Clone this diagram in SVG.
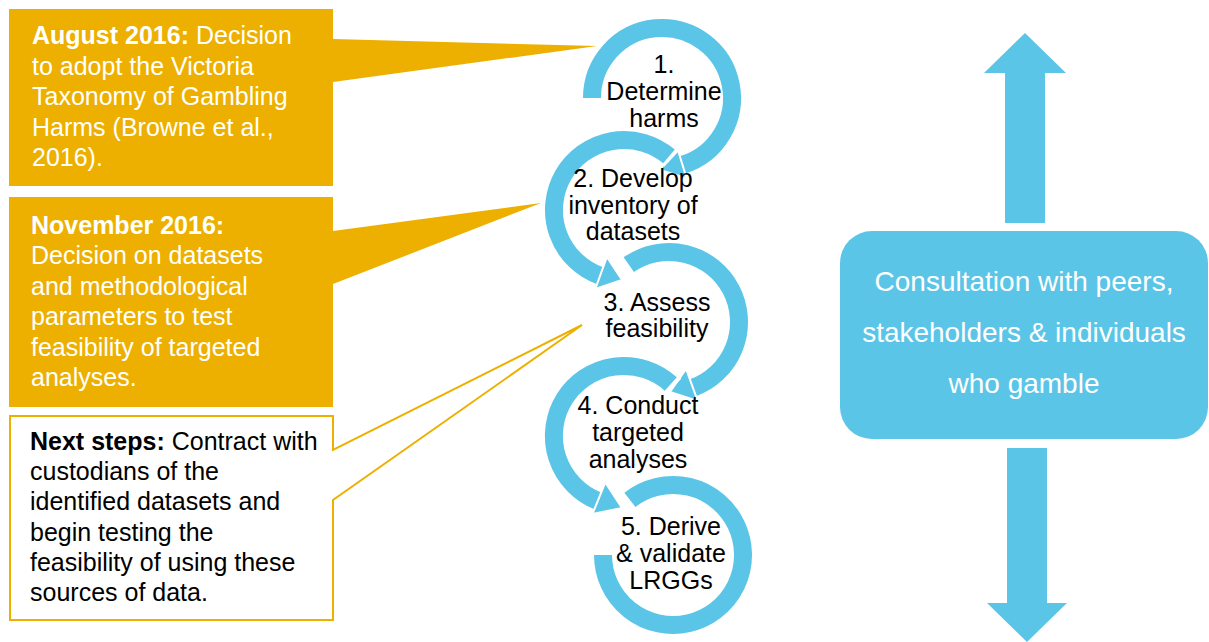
<svg xmlns="http://www.w3.org/2000/svg" width="1209" height="642" viewBox="0 0 1209 642">
<defs>
<style>
.box{fill:#EDB000}
.nbox{fill:#ffffff;stroke:#EDB000;stroke-width:2}
.t{font-family:"Liberation Sans",Arial,sans-serif;font-size:25px}
.w{fill:#ffffff}
.k{fill:#000000}
.b{font-weight:bold}
.rw{fill:none;stroke:#ffffff;stroke-width:22}
.r{fill:none;stroke:#5BC5E8;stroke-width:18}
.hd{fill:#5BC5E8;stroke:#ffffff;stroke-width:2}
.c{text-anchor:middle}
.blue{fill:#5BC5E8}
.cons{font-family:"Liberation Sans",Arial,sans-serif;font-size:28px;fill:#ffffff;text-anchor:middle}
</style>
</defs>
<rect width="1209" height="642" fill="#ffffff"/>

<g id="aug2016">
<path class="box" d="M9 9 H333 V39 L597 46 L333 82 V186 H9 Z"/>
<text class="t w" x="32" y="44"><tspan class="b">August 2016:</tspan> Decision</text>
<text class="t w" x="32" y="75">to adopt the Victoria</text>
<text class="t w" x="32" y="105">Taxonomy of Gambling</text>
<text class="t w" x="32" y="136">Harms (Browne et al.,</text>
<text class="t w" x="32" y="166">2016).</text>
</g>

<g id="nov2016">
<path class="box" d="M9 197 H333 V231 L541 203 L333 284 V407 H9 Z"/>
<text class="t w b" x="31" y="234">November 2016:</text>
<text class="t w" x="31" y="264">Decision on datasets</text>
<text class="t w" x="31" y="295">and methodological</text>
<text class="t w" x="31" y="325">parameters to test</text>
<text class="t w" x="31" y="356">feasibility of targeted</text>
<text class="t w" x="31" y="386">analyses.</text>
</g>

<g id="nextsteps">
<path class="nbox" d="M10 416 H333 V450 L582 325 L333 500 V620 H10 Z"/>
<text class="t k" x="30" y="450"><tspan class="b">Next steps:</tspan> Contract with</text>
<text class="t k" x="30" y="480">custodians of the</text>
<text class="t k" x="30" y="510">identified datasets and</text>
<text class="t k" x="30" y="541">begin testing the</text>
<text class="t k" x="30" y="571">feasibility of using these</text>
<text class="t k" x="30" y="601">sources of data.</text>
</g>

<g id="step1">
<path class="rw" d="M592 98 A70 70 0 1 1 682.5 164.9"/>
<path class="r" d="M592 98 A70 70 0 1 1 682.5 164.9"/>
<polygon class="hd" points="686.6,178.3 676.6,145.8 660,170"/>
<text class="t k c" x="664" y="73">1.</text>
<text class="t k c" x="664" y="100">Determine</text>
<text class="t k c" x="664" y="127">harms</text>
</g>

<g id="step2">
<path class="rw" d="M671.7 158.8 A70 70 0 1 0 600.1 275.8"/>
<path class="r" d="M669 156.4 A70 70 0 1 0 600.1 275.8"/>
<polygon class="hd" points="595.3,288.9 606.9,257 622,280"/>
<text class="t k c" x="633" y="187">2. Develop</text>
<text class="t k c" x="633" y="214">inventory of</text>
<text class="t k c" x="633" y="240">datasets</text>
</g>

<g id="step3">
<path class="rw" d="M625.9 266.8 A70 70 0 1 1 692.9 387.8"/>
<path class="r" d="M628.8 264.7 A70 70 0 1 1 692.9 387.8"/>
<polygon class="hd" points="697.7,400.9 686.1,369 670,392"/>
<text class="t k c" x="657" y="311">3. Assess</text>
<text class="t k c" x="657" y="337">feasibility</text>
</g>

<g id="step4">
<path class="rw" d="M673.5 386.5 A70 70 0 1 0 597.8 500.9"/>
<path class="r" d="M670.8 384 A70 70 0 1 0 597.8 500.9"/>
<polygon class="hd" points="592.5,513.9 605.3,482.4 622,508"/>
<text class="t k c" x="638" y="414">4. Conduct</text>
<text class="t k c" x="638" y="441">targeted</text>
<text class="t k c" x="638" y="468">analyses</text>
</g>

<g id="step5">
<path class="rw" d="M627.1 502.2 A70 70 0 1 1 603 555"/>
<path class="r" d="M629.9 499.8 A70 70 0 1 1 603 555"/>
<text class="t k c" x="671" y="535">5. Derive</text>
<text class="t k c" x="671" y="562">&amp; validate</text>
<text class="t k c" x="671" y="589">LRGGs</text>
</g>

<g id="consultation">
<rect class="blue" x="840" y="231" width="368" height="208" rx="32" ry="32"/>
<text class="cons" x="1024" y="291">Consultation with peers,</text>
<text class="cons" x="1024" y="342">stakeholders &amp; individuals</text>
<text class="cons" x="1024" y="393">who gamble</text>
</g>

<g id="connectors">
<polygon class="blue" points="1025,33 1066,73 1045,73 1045,223 1005,223 1005,73 984,73"/>
<polygon class="blue" points="1007,448 1047,448 1047,603 1067,603 1027,642 987,603 1007,603"/>
</g>
</svg>
